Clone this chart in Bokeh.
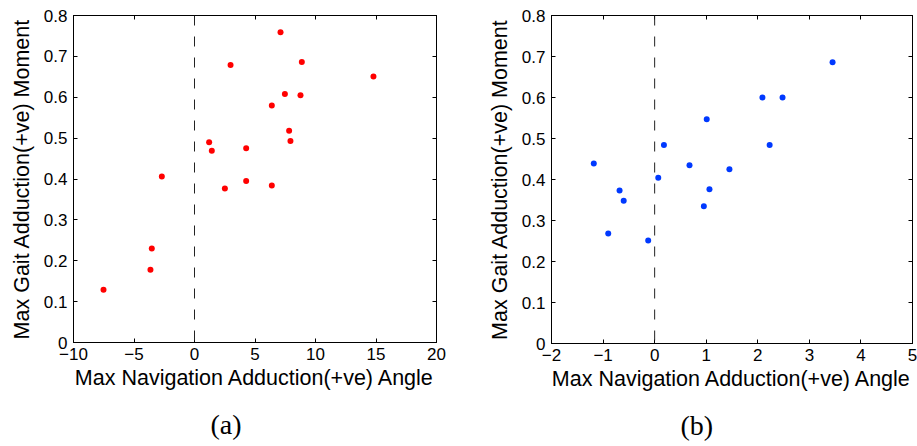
from bokeh.plotting import figure
from bokeh.layouts import row
from bokeh.models import Range1d, FixedTicker, LinearAxis, Span, Title
from bokeh.embed import file_html
from bokeh.resources import INLINE

# ---- data ----
a_angle = [-7.52, -3.64, -3.53, -2.70, 1.21, 1.43, 2.51, 2.98, 4.27, 4.27,
           6.39, 6.39, 7.11, 7.47, 7.82, 7.93, 8.76, 8.87, 14.79]
a_moment = [0.129, 0.178, 0.230, 0.406, 0.490, 0.469, 0.377, 0.679, 0.475, 0.395,
            0.580, 0.384, 0.759, 0.608, 0.518, 0.493, 0.605, 0.686, 0.651]

b_angle = [-1.18, -0.90, -0.68, -0.60, -0.125, 0.07, 0.18, 0.676, 0.954, 1.01,
           1.063, 1.45, 2.09, 2.23, 2.48, 3.45]
b_moment = [0.439, 0.268, 0.373, 0.348, 0.251, 0.404, 0.484, 0.435, 0.335, 0.547,
            0.376, 0.425, 0.600, 0.484, 0.600, 0.686]

a_xticks = [-10, -5, 0, 5, 10, 15, 20]
a_xtick_labels = ["\u221210", "\u22125", "0", "5", "10", "15", "20"]
b_xticks = [-2, -1, 0, 1, 2, 3, 4, 5]
b_xtick_labels = ["\u22122", "\u22121", "0", "1", "2", "3", "4", "5"]
yticks = [0, 0.1, 0.2, 0.3, 0.4, 0.5, 0.6, 0.7, 0.8]
ytick_labels = ["0", "0.1", "0.2", "0.3", "0.4", "0.5", "0.6", "0.7", "0.8"]

x_label = "Max Navigation Adduction(+ve) Angle"
y_label = "Max Gait Adduction(+ve) Moment"
captions = ["(a)", "(b)"]

FONT = "Liberation Sans"


def style_axis(ax, ticks, labels, show_labels):
    ax.ticker = FixedTicker(ticks=ticks)
    ax.minor_tick_line_color = None
    ax.major_tick_in = 4
    ax.major_tick_out = 0
    ax.axis_line_color = "black"
    ax.major_tick_line_color = "black"
    if show_labels:
        ax.major_label_overrides = {t: l for t, l in zip(ticks, labels)}
        ax.major_label_text_font = FONT
        ax.major_label_text_font_size = "17px"
        ax.major_label_text_color = "black"
        ax.axis_label_text_font = FONT
        ax.axis_label_text_font_size = "21.5px"
        ax.axis_label_text_font_style = "normal"
        ax.axis_label_text_color = "black"
    else:
        ax.major_label_overrides = {t: "" for t in ticks}
        ax.major_label_text_font_size = "1px"
        ax.major_label_standoff = 0
        ax.axis_label = None


def make_panel(xs, ys, color, xr, xticks, xlabels, fw, fh, left, right,
               caption, cap_offset):
    p = figure(frame_width=fw, frame_height=fh, output_backend="svg",
               toolbar_location=None,
               x_range=Range1d(*xr), y_range=Range1d(0, 0.8),
               min_border_left=left, min_border_right=right,
               min_border_top=15, min_border_bottom=100)
    p.grid.visible = False
    p.outline_line_color = "black"
    p.outline_line_alpha = 1
    p.background_fill_color = "white"
    p.border_fill_color = "white"

    p.add_layout(LinearAxis(), "above")
    p.add_layout(LinearAxis(), "right")

    xb = p.below[0]
    style_axis(xb, xticks, xlabels, True)
    xb.axis_label = x_label
    xb.major_label_standoff = 5
    xb.axis_label_standoff = 3

    yl = p.left[0]
    style_axis(yl, yticks, ytick_labels, True)
    yl.axis_label = y_label
    yl.major_label_standoff = 6
    yl.axis_label_standoff = 7

    style_axis(p.above[0], xticks, xlabels, False)
    style_axis(p.right[0], yticks, ytick_labels, False)

    p.add_layout(Span(location=0, dimension="height", line_color="#222222",
                      line_width=1, line_dash="10 11"))
    p.scatter(xs, ys, size=6, fill_color=color, line_color=None)

    p.add_layout(Title(text=caption, align="left", offset=cap_offset,
                       text_font="Liberation Serif", text_font_size="28px",
                       text_font_style="normal", text_color="black",
                       standoff=29), "below")
    return p


p1 = make_panel(a_angle, a_moment, "#ff0000", (-10, 20), a_xticks, a_xtick_labels,
                363, 327, 73, 22, captions[0], 137)
p2 = make_panel(b_angle, b_moment, "#0039ff", (-2, 5), b_xticks, b_xtick_labels,
                361, 328, 93, 5, captions[1], 129)

layout = row(p1, p2)
open("out.html", "w").write(file_html(layout, INLINE))
